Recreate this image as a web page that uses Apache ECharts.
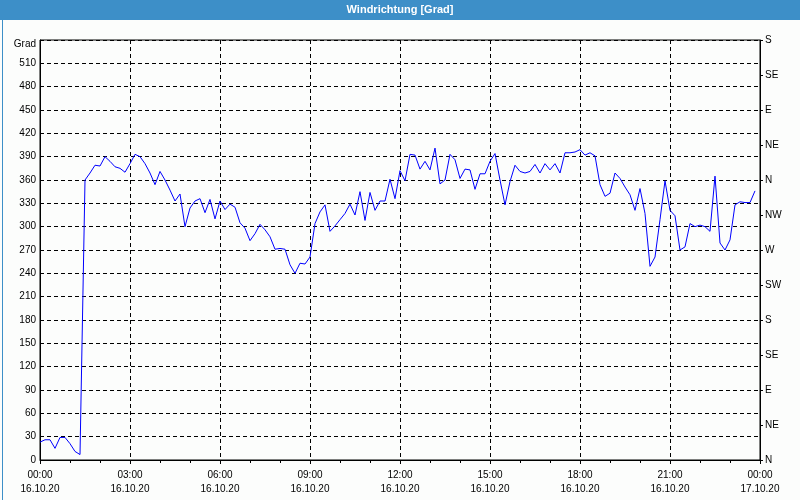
<!DOCTYPE html>
<html>
<head>
<meta charset="utf-8">
<script src="https://cdn.jsdelivr.net/npm/echarts@6/dist/echarts.min.js"></script>
<style>
html,body{margin:0;padding:0;background:#fcfdfc;}
#chart{width:800px;height:500px;}
</style>
</head>
<body>
<div id="chart"></div>
<script>
// Wind direction in degrees, one reading every 10 minutes from 16.10.20 00:00
const sampleStepMinutes = 10;
const windDirection = [
  23, 26, 26, 15, 29, 29, 21, 11, 7, 360,
  369, 379, 378, 390, 384, 377, 375, 370, 381, 393,
  390, 381, 369, 354, 371, 360, 347, 333, 342, 300,
  324, 333, 336, 318, 335, 310, 333, 322, 329, 325,
  305, 298, 282, 291, 303, 296, 287, 271, 272, 271,
  251, 240, 253, 252, 261, 304, 319, 328, 294, 301,
  309, 317, 329, 315, 345, 308, 344, 321, 333, 333,
  361, 336, 372, 359, 393, 392, 374, 384, 373, 401,
  355, 360, 393, 386, 362, 374, 373, 348, 368, 368,
  384, 394, 360, 328, 358, 379, 371, 369, 371, 380,
  369, 381, 373, 381, 369, 395, 395, 396, 399, 392,
  395, 391, 354, 339, 343, 369, 362, 351, 341, 321,
  349, 317, 249, 261, 309, 359, 321, 314, 270, 274,
  304, 300, 302, 300, 294, 365, 279, 270, 283, 328,
  332, 331, 331, 346
];
const xTickLabels = [
  '00:00\n16.10.20', '03:00\n16.10.20', '06:00\n16.10.20', '09:00\n16.10.20',
  '12:00\n16.10.20', '15:00\n16.10.20', '18:00\n16.10.20', '21:00\n16.10.20',
  '00:00\n17.10.20'
];
const compassLabels = ['N', 'NE', 'E', 'SE', 'S', 'SW', 'W', 'NW', 'N', 'NE', 'E', 'SE', 'S'];
const leftTopLabel = 'Grad';
const titleText = 'Windrichtung [Grad]';

const seriesData = windDirection.map((v, i) => [i * sampleStepMinutes, v]);

const FONT = 'Liberation Sans';
const chart = echarts.init(document.getElementById('chart'), null, {renderer: 'canvas'});
const dash = [4, 3];
chart.setOption({
  backgroundColor: '#fcfdfc',
  animation: false,
  graphic: [
    {type: 'rect', left: 0, top: 0, shape: {width: 800, height: 20}, style: {fill: '#3d8fc8'}, silent: true, z: 0},
    {type: 'rect', left: 0, top: 0, shape: {x: 0.5, y: 0.5, width: 799, height: 499}, style: {fill: 'none', stroke: '#3d8fc8', lineWidth: 1}, silent: true, z: 0}
  ],
  title: {
    text: titleText,
    left: 'center',
    top: 4,
    padding: 0,
    textStyle: {color: '#ffffff', fontFamily: FONT, fontSize: 11, fontWeight: 'bold'}
  },
  grid: {left: 40, right: 40, top: 40, bottom: 40, show: true, borderColor: '#000', borderWidth: 1, backgroundColor: 'transparent'},
  xAxis: {
    type: 'value',
    min: 0, max: 1440, interval: 180,
    axisLine: {show: true, lineStyle: {color: '#000', width: 1}},
    axisTick: {show: true, length: 4, lineStyle: {color: '#000'}},
    minorTick: {show: true, splitNumber: 3, length: 3, lineStyle: {color: '#000'}},
    splitLine: {show: true, lineStyle: {color: '#000', type: dash, width: 1}},
    axisLabel: {
      color: '#000', fontFamily: FONT, fontSize: 10, lineHeight: 14, margin: 8,
      showMinLabel: true, showMaxLabel: true,
      formatter: v => xTickLabels[Math.round(v / 180)] || ''
    }
  },
  yAxis: [
    {
      type: 'value', min: 0, max: 540, interval: 30,
      axisLine: {show: true, lineStyle: {color: '#000'}},
      axisTick: {show: false},
      splitLine: {show: true, lineStyle: {color: '#000', type: dash, width: 1}},
      axisLabel: {
        color: '#000', fontFamily: FONT, fontSize: 10, margin: 4,
        formatter: v => v === 540 ? '{g|' + leftTopLabel + '}' : String(v),
        rich: {g: {color: '#000', fontFamily: FONT, fontSize: 10, padding: [9, 0, 0, 0]}}
      }
    },
    {
      type: 'value', min: 0, max: 540, interval: 45, position: 'right',
      axisLine: {show: true, lineStyle: {color: '#000'}},
      axisTick: {show: true, length: 3, lineStyle: {color: '#000'}},
      splitLine: {show: false},
      axisLabel: {
        color: '#000', fontFamily: FONT, fontSize: 10, margin: 5,
        formatter: v => compassLabels[Math.round(v / 45)] || ''
      }
    }
  ],
  series: [{
    type: 'line',
    data: seriesData,
    yAxisIndex: 0,
    showSymbol: false,
    symbol: 'none',
    smooth: false,
    lineStyle: {color: '#0000ff', width: 1},
    z: 5
  }]
});
</script>
</body>
</html>
